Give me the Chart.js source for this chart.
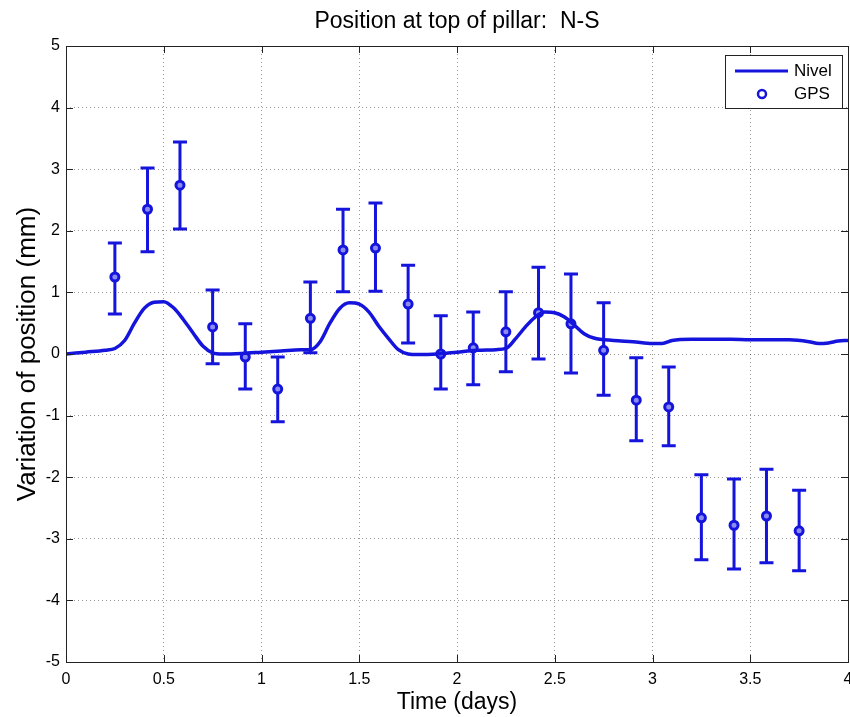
<!DOCTYPE html>
<html>
<head>
<meta charset="utf-8">
<title>Position at top of pillar: N-S</title>
<script src="https://cdn.jsdelivr.net/npm/chart.js@4.4.1/dist/chart.umd.min.js"></script>
<style>
body{margin:0;background:#fff;overflow:hidden;}
canvas{display:block;}
</style>
</head>
<body>
<canvas id="mycanvas" width="850" height="717"></canvas>
<script>
// Nivel (continuous), time in days / position in mm
var nivelT = [0,0.1,0.2,0.25,0.3,0.35,0.4,0.45,0.5,0.55,0.6,0.65,0.7,0.75,0.8,0.9,1.0,1.1,1.2,1.25,
	1.3,1.35,1.4,1.45,1.5,1.55,1.6,1.65,1.7,1.75,1.8,1.9,2.0,2.1,2.2,2.25,2.3,2.35,2.4,2.45,
	2.5,2.55,2.6,2.65,2.7,2.8,2.9,3.0,3.05,3.1,3.2,3.3,3.4,3.5,3.6,3.7,3.8,3.85,3.9,3.95,4.0];
var nivelV = [0.00,0.03,0.06,0.09,0.22,0.50,0.74,0.84,0.85,0.75,0.56,0.34,0.13,0.02,0.00,0.01,0.03,0.05,0.07,0.07,
	0.20,0.50,0.74,0.83,0.81,0.68,0.45,0.25,0.07,0.00,-0.01,0.00,0.03,0.06,0.07,0.09,0.25,0.44,0.60,0.68,
	0.67,0.60,0.47,0.33,0.26,0.22,0.20,0.17,0.17,0.22,0.24,0.24,0.24,0.23,0.23,0.23,0.20,0.17,0.18,0.21,0.22];

// GPS solutions with error bars
var gpsT = [0.25,0.417,0.583,0.75,0.917,1.083,1.25,1.417,1.583,1.75,1.917,2.083,2.25,2.417,2.583,2.75,2.917,3.083,3.25,3.417,3.583,3.75];
var gpsV = [1.25,2.35,2.74,0.44,-0.05,-0.57,0.58,1.69,1.72,0.81,0.00,0.10,0.36,0.67,0.49,0.06,-0.75,-0.86,-2.66,-2.78,-2.63,-2.87];
var gpsHi = [1.80,3.02,3.44,1.04,0.49,-0.05,1.17,2.35,2.45,1.44,0.62,0.68,1.01,1.41,1.30,0.83,-0.06,-0.21,-1.96,-2.03,-1.87,-2.21];
var gpsLo = [0.65,1.66,2.03,-0.16,-0.57,-1.10,0.02,1.01,1.02,0.18,-0.57,-0.50,-0.29,-0.08,-0.31,-0.67,-1.41,-1.49,-3.34,-3.49,-3.39,-3.52];

var xTicks = [0,0.5,1,1.5,2,2.5,3,3.5,4];
var yTicks = [-5,-4,-3,-2,-1,0,1,2,3,4,5];

var blue = '#1414dc';
var fontName = '"Liberation Sans", Arial, Helvetica, sans-serif';

var nivelData = [];
for (var i in nivelT) {
	nivelData.push({x: nivelT[i], y: nivelV[i]});
}
var gpsData = [];
for (var j in gpsT) {
	gpsData.push({x: gpsT[j], y: gpsV[j]});
}

// error bars, box, inward ticks and legend
var matlabLook = {
	id: 'matlabLook',
	beforeDatasetDraw: function(chart, args){
		if (args.index !== 1) return;
		var ctx = chart.ctx, xs = chart.scales.x, ys = chart.scales.y;
		ctx.save();
		ctx.strokeStyle = blue;
		ctx.lineWidth = 3;
		for (var k = 0; k < gpsT.length; k++) {
			var px = xs.getPixelForValue(gpsT[k]);
			var top = ys.getPixelForValue(gpsHi[k]);
			var bot = ys.getPixelForValue(gpsLo[k]);
			ctx.beginPath();
			ctx.moveTo(px, top); ctx.lineTo(px, bot);
			ctx.moveTo(px - 7, top); ctx.lineTo(px + 7, top);
			ctx.moveTo(px - 7, bot); ctx.lineTo(px + 7, bot);
			ctx.stroke();
		}
		ctx.restore();
	},
	afterDraw: function(chart){
		var ctx = chart.ctx, a = chart.chartArea;
		var xs = chart.scales.x, ys = chart.scales.y;
		ctx.save();
		ctx.strokeStyle = '#222';
		ctx.lineWidth = 1;
		ctx.beginPath();
		xTicks.forEach(function(t){
			var px = Math.round(xs.getPixelForValue(t)) + 0.5;
			ctx.moveTo(px, a.bottom); ctx.lineTo(px, a.bottom - 7);
			ctx.moveTo(px, a.top); ctx.lineTo(px, a.top + 7);
		});
		yTicks.forEach(function(t){
			var py = Math.round(ys.getPixelForValue(t)) + 0.5;
			ctx.moveTo(a.left, py); ctx.lineTo(a.left + 7, py);
			ctx.moveTo(a.right, py); ctx.lineTo(a.right - 7, py);
		});
		ctx.stroke();
		ctx.strokeRect(Math.round(a.left) + 0.5, Math.round(a.top) + 0.5, Math.round(a.right - a.left), Math.round(a.bottom - a.top));

		// legend
		var lx = a.right - 123, ly = a.top + 9, lw = 117, lh = 53;
		ctx.fillStyle = '#fff';
		ctx.fillRect(lx, ly, lw, lh);
		ctx.strokeStyle = '#222';
		ctx.strokeRect(lx + 0.5, ly + 0.5, lw, lh);
		ctx.strokeStyle = blue;
		ctx.lineWidth = 3;
		ctx.beginPath();
		ctx.moveTo(lx + 10, ly + 16); ctx.lineTo(lx + 63, ly + 16);
		ctx.stroke();
		ctx.beginPath();
		ctx.arc(lx + 37, ly + 39, 4, 0, Math.PI * 2);
		ctx.fillStyle = '#fff';
		ctx.fill();
		ctx.lineWidth = 2.5;
		ctx.stroke();
		ctx.fillStyle = '#000';
		ctx.font = '17px ' + fontName;
		ctx.textBaseline = 'middle';
		ctx.fillText(chart.data.datasets[0].label, lx + 69, ly + 16);
		ctx.fillText(chart.data.datasets[1].label, lx + 69, ly + 39);
		ctx.restore();
	}
};

var cxt = document.getElementById('mycanvas');
var chart = new Chart(cxt, {
	type: 'scatter',
	data: {
		datasets: [
			{
				label: 'Nivel',
				type: 'line',
				data: nivelData,
				borderColor: blue,
				borderWidth: 3.5,
				pointRadius: 0,
				cubicInterpolationMode: 'monotone',
				fill: false
			},
			{
				label: 'GPS',
				data: gpsData,
				borderColor: blue,
				backgroundColor: '#8c8cf0',
				borderWidth: 3,
				pointRadius: 4,
				showLine: false
			}
		]
	},
	plugins: [matlabLook],
	options: {
		responsive: false,
		animation: false,
		events: [],
		layout: {autoPadding: false, padding: {left: 0, right: 2, top: 0, bottom: 0}},
		plugins: {
			legend: {display: false},
			tooltip: {enabled: false},
			title: {
				display: true,
				fullSize: false,
				text: 'Position at top of pillar:  N-S',
				color: '#000',
				font: {family: fontName, size: 23, weight: 'normal'},
				padding: {top: 8, bottom: 10.4}
			}
		},
		scales: {
			x: {
				type: 'linear',
				min: 0, max: 4,
				afterBuildTicks: function(s){ s.ticks = xTicks.map(function(v){ return {value: v}; }); },
				afterFit: function(s){ s.height = 55; s.paddingLeft = 0; s.paddingRight = 0; },
				grid: {color: 'rgba(0,0,0,0.4)', drawTicks: false, lineWidth: 1},
				border: {display: false, dash: [1, 3]},
				ticks: {color: '#000', padding: 8, font: {family: fontName, size: 16}, maxRotation: 0,
					callback: function(v){ return String(v); }},
				title: {display: true, text: 'Time (days)', color: '#000', font: {family: fontName, size: 23}, padding: {top: 0, bottom: 1}}
			},
			y: {
				type: 'linear',
				min: -5, max: 5,
				afterBuildTicks: function(s){ s.ticks = yTicks.map(function(v){ return {value: v}; }); },
				afterFit: function(s){ s.width = 66; s.paddingTop = 0; s.paddingBottom = 0; },
				grid: {color: 'rgba(0,0,0,0.4)', drawTicks: false, lineWidth: 1},
				border: {display: false, dash: [1, 3]},
				ticks: {color: '#000', padding: 6, font: {family: fontName, size: 16},
					callback: function(v){ return String(v); }},
				title: {display: true, text: 'Variation of position (mm)', color: '#000', font: {family: fontName, size: 26}, padding: {top: 12, bottom: 0}}
			}
		}
	}
});
</script>
</body>
</html>
